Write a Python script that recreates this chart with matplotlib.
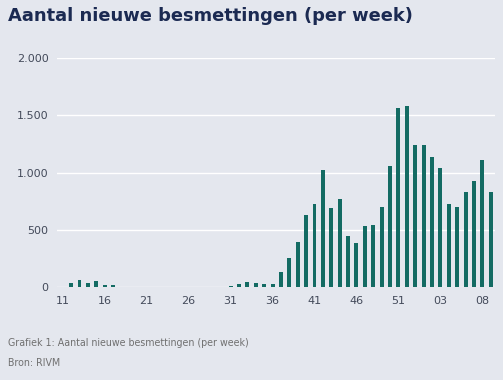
import matplotlib
matplotlib.use("Agg")
import matplotlib.pyplot as plt

# Week numbers (2020 week 11 .. 2021 week 09)
weeks = [str(w) for w in range(11, 54)] + [f"{w:02d}" for w in range(1, 10)]

# New infections per week
cases = [3, 40, 64, 40, 58, 18, 18, 3, 2, 1,
         1, 1, 1, 1, 1, 1, 1, 1, 2, 3,
         10, 32, 47, 41, 26, 26, 131, 257, 397, 628,
         730, 1022, 689, 774, 444, 388, 531, 540, 698, 1060,
         1565, 1580, 1241, 1241, 1133, 1037, 730, 698, 832, 926,
         1115, 832]

tick_labels = ['11', '16', '21', '26', '31', '36', '41', '46', '51', '03', '08']

bg = '#e4e7ee'
bar_color = '#136b63'

fig = plt.figure(figsize=(5.03, 3.80), dpi=100, facecolor=bg)
ax = fig.add_axes([0.1133, 0.244, 0.8707, 0.603])
ax.set_facecolor(bg)

x = list(range(len(weeks)))
ax.bar(x, cases, width=0.47, color=bar_color, zorder=3)

ax.set_ylim(0, 2000)
ax.set_xlim(-0.68, 51.5)
ax.set_yticks([0, 500, 1000, 1500, 2000])
ax.set_yticklabels(['0', '500', '1.000', '1.500', '2.000'])
ax.set_xticks([weeks.index(t) for t in tick_labels])
ax.set_xticklabels(tick_labels)

ax.grid(axis='y', color='white', linewidth=1.0, zorder=0)
ax.tick_params(axis='both', length=0, labelsize=8, labelcolor='#434a5a')
ax.tick_params(axis='y', pad=6)
ax.tick_params(axis='x', pad=6)
for s in ax.spines.values():
    s.set_visible(False)

fig.text(0.016, 0.958, 'Aantal nieuwe besmettingen (per week)', fontsize=12.9,
         fontweight='bold', color='#1b2a52', va='center', ha='left')
fig.text(0.016, 0.097, 'Grafiek 1: Aantal nieuwe besmettingen (per week)',
         fontsize=6.85, color='#707070', va='center', ha='left')
fig.text(0.016, 0.045, 'Bron: RIVM', fontsize=6.85, color='#707070',
         va='center', ha='left')

fig.savefig('out.png', dpi=100, facecolor=bg)
